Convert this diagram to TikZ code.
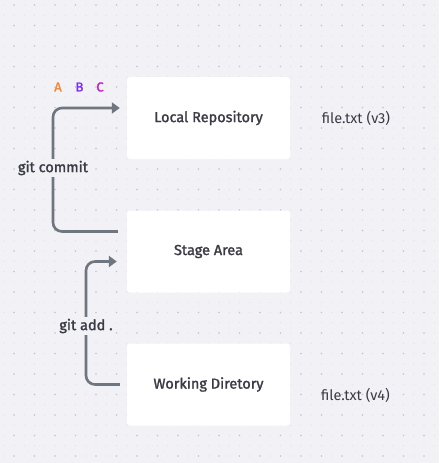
\documentclass[tikz,border=0pt]{standalone}
\usepackage{fontspec}
\setmainfont{Fira Sans}[BoldFont={Fira Sans}, BoldFeatures={FakeBold=1.6}]
\usepackage{tikz}
\usetikzlibrary{arrows.meta,positioning}
\definecolor{canvas}{HTML}{F1F1F6}
\definecolor{griddot}{HTML}{C6C6D2}
\definecolor{gridfaint}{HTML}{E1E1EA}
\definecolor{flowgray}{HTML}{6F7680}
\definecolor{inkgray}{HTML}{3A3B44}
\definecolor{tagA}{HTML}{EE8A3C}
\definecolor{tagB}{HTML}{7A2EF0}
\definecolor{tagC}{HTML}{C21FD0}
\tikzstyle{area} = [rectangle, fill=white, rounded corners=3pt,
    minimum width=163pt, minimum height=82pt, text=inkgray, font=\fontsize{14.5}{17}\selectfont\bfseries]
\tikzstyle{filenote} = [text=inkgray, font=\fontsize{14.5}{17}\selectfont]
\tikzstyle{cmdlabel} = [fill=canvas, inner sep=2pt, text=inkgray, font=\fontsize{14.5}{17}\selectfont\bfseries]
\tikzstyle{flow} = [draw, flowgray, line width=2.6pt, rounded corners=9pt,
    -{Triangle[length=8pt,width=11pt]}]
\tikzstyle{tag} = [font=\fontsize{13}{15}\selectfont\bfseries]

\begin{document}
\begin{tikzpicture}[x=1pt, y=-1pt, node distance=2cm]
    % Canvas and dot grid
    \fill [canvas] (0,0) rectangle (439,463);
    \useasboundingbox (0,0) rectangle (439,463);
    \foreach \i in {0,...,43}
      \foreach \j in {0,...,45}
        \fill [gridfaint] (3.75+10.25*\i, -5.25+10.25*\j) circle (0.6pt);
    \foreach \i in {0,...,21}
      \foreach \j in {0,...,22}
        \fill [griddot] (14+20.5*\i, 5+20.5*\j) circle (0.85pt);

    % Place nodes
    \node [area, at={(208.5,118)}] (local) {Local Repository};
    \node [area, below of=local, node distance=133.5pt] (stage) {Stage Area};
    \node [area, below of=stage, node distance=133pt] (working) {Working Diretory};

    \node [filenote, right of=local, node distance=147.5pt] (v3) {file.txt (v3)};
    \node [filenote, at={(355.5,395)}] (v4) {file.txt (v4)};

    \node [tag, text=tagA, at={(58,87)}] (a) {A};
    \node [tag, text=tagB, at={(79.5,87)}] (b) {B};
    \node [tag, text=tagC, at={(100,87)}] (c) {C};

    % Bends of the arrows
    \coordinate (commit) at (53,168);
    \coordinate (add) at (86,326);

    % Draw lines
    \path [flow] ([xshift=-9pt,yshift=20pt]stage.west) -| (commit) |- ([xshift=-7pt,yshift=10pt]local.west);
    \path [flow] ([xshift=-7pt]working.west) -| (add) |- ([xshift=-10pt,yshift=-10pt]stage.west);

    % Command labels
    \node [cmdlabel, at={(commit)}] (commitlbl) {git commit};
    \node [cmdlabel, at={(add)}] (addlbl) {git add .};

\end{tikzpicture}
\end{document}
